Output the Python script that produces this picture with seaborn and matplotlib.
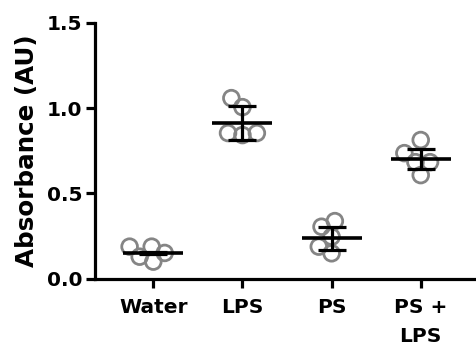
import numpy as np
import pandas as pd
import matplotlib
matplotlib.use("Agg")
import matplotlib.pyplot as plt
import seaborn as sns

# ---- data ----
categories = ["Water", "LPS", "PS", "PS +\nLPS"]
water = [0.187, 0.187, 0.128, 0.099, 0.150]
lps = [1.059, 1.006, 0.854, 0.842, 0.854]
ps = [0.337, 0.304, 0.245, 0.187, 0.148]
ps_lps = [0.813, 0.736, 0.683, 0.607, 0.683]
group_means = [0.148, 0.914, 0.236, 0.700]
group_sd = [0.006, 0.098, 0.068, 0.060]
y_ticks = [0.0, 0.5, 1.0, 1.5]
y_tick_labels = ["0.0", "0.5", "1.0", "1.5"]
y_label = "Absorbance (AU)"

sns.set_theme(style="ticks")
plt.rcParams["font.family"] = ["DejaVu Sans"]
plt.rcParams["font.weight"] = "bold"

values = water + lps + ps + ps_lps
groups = [categories[0]] * len(water) + [categories[1]] * len(lps) + \
         [categories[2]] * len(ps) + [categories[3]] * len(ps_lps)
df = pd.DataFrame({"group": groups, "value": values})

fig = plt.figure(figsize=(4.76, 3.49), dpi=100)
ax = fig.add_axes([95 / 476, 70.5 / 349, 381 / 476, 255.5 / 349])

# swarm layout computed with a compact marker, so circles overlap like the reference
sns.swarmplot(data=df, x="group", y="value", order=categories, ax=ax,
              size=9, color="#808080", linewidth=1, zorder=2)
ax.set_xlim(-0.654, 3.62)
ax.set_ylim(0, 1.5)
fig.canvas.draw()
for coll in ax.collections:
    if "draw" in coll.__dict__:
        del coll.draw
    coll.set_sizes([11.3 ** 2])
    coll.set_facecolor("none")
    coll.set_edgecolor("#858585")
    coll.set_linewidth(2.0)

xpos = np.arange(len(categories))
ax.errorbar(xpos, group_means, yerr=group_sd, fmt="none", ecolor="black",
            elinewidth=2.3, capsize=10.4, capthick=2.3, zorder=4)
ax.hlines(group_means, xpos - 0.336, xpos + 0.336, colors="black",
          linewidth=2.6, zorder=4)

ax.set_xlim(-0.654, 3.62)
ax.set_ylim(0, 1.5)
ax.set_yticks(y_ticks)
ax.set_yticklabels(y_tick_labels)
ax.set_xlabel("")
ax.set_ylabel(y_label, fontsize=17.7, fontweight="bold", labelpad=6, color="black")

sns.despine(ax=ax)
for side in ["left", "bottom"]:
    ax.spines[side].set_linewidth(2.3)
    ax.spines[side].set_color("black")
ax.tick_params(axis="both", length=6.5, width=2.3, color="black",
               labelsize=14.5, labelcolor="black")
ax.tick_params(axis="y", pad=2.5)
ax.tick_params(axis="x", pad=7.5)
for lab in ax.get_xticklabels() + ax.get_yticklabels():
    lab.set_fontweight("bold")
for lab in ax.get_xticklabels():
    lab.set_linespacing(1.7)

fig.savefig("out.png", dpi=100)
